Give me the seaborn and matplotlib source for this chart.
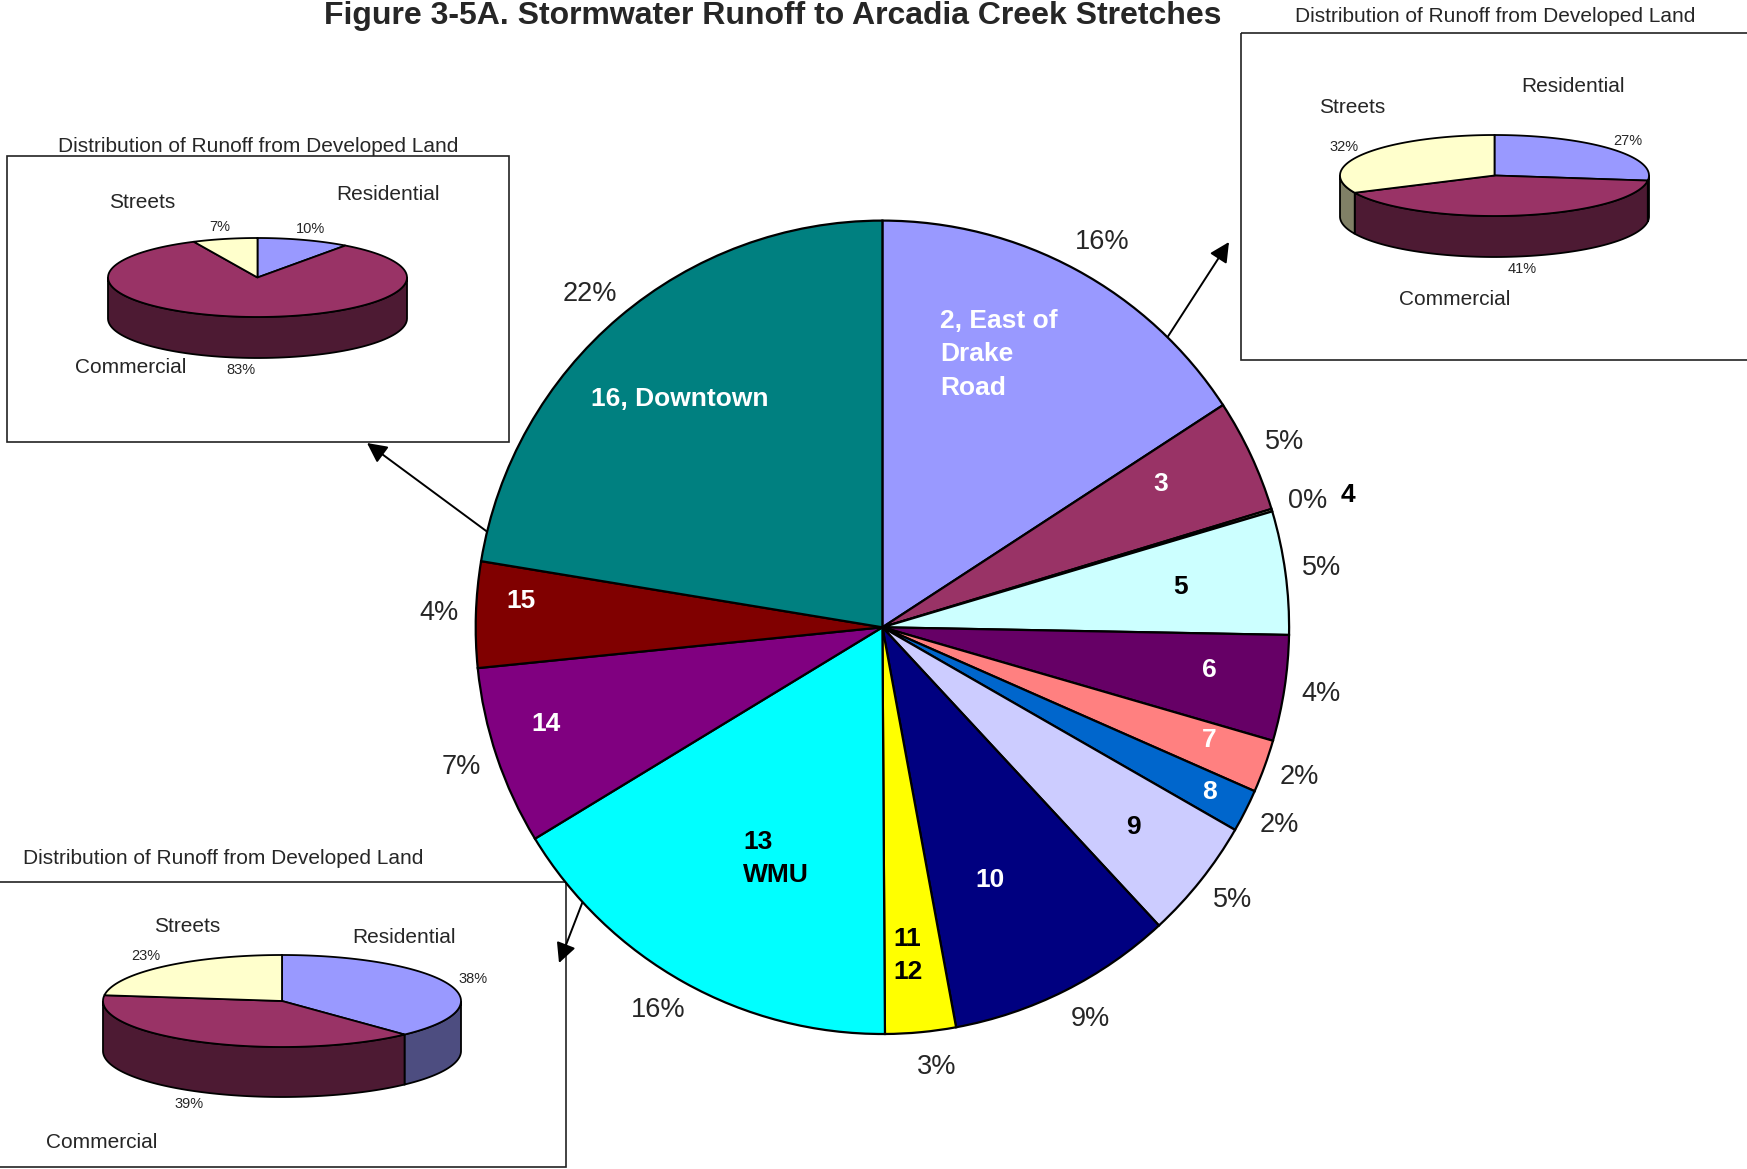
import numpy as np
import seaborn as sns
import matplotlib.pyplot as plt
import matplotlib.colors as mcolors
from matplotlib.patches import Polygon, Rectangle

# ---- main pie: share of stormwater runoff by creek stretch (%)
stretches = ["2, East of\nDrake\nRoad", "3", "4", "5", "6", "7", "8", "9", "10",
             "11\n12", "13\nWMU", "14", "15", "16, Downtown"]
runoff_pct = [15.8, 4.5, 0.1, 4.9, 4.2, 2.1, 1.7, 4.8, 9.0, 2.8, 16.4, 7.1, 4.2, 22.4]
stretch_colors = ["#9999FF", "#993366", "#FFFFCC", "#CCFFFF", "#660066", "#FF8080",
                  "#0066CC", "#CCCCFF", "#000080", "#FFFF00", "#00FFFF", "#800080",
                  "#800000", "#008080"]
label_colors = ["white", "white", "black", "black", "white", "white", "white",
                "black", "white", "black", "black", "white", "white", "white"]

# ---- inset pies: distribution of runoff from developed land (%)
land_uses = ["Residential", "Commercial", "Streets"]
land_colors = ["#9999FF", "#993366", "#FFFFCC"]
downtown_split = [10, 83, 7]
drake_split = [27, 41, 32]
wmu_split = [38, 39, 23]

sns.set_style("white")
plt.rcParams["font.family"] = ["Liberation Sans", "DejaVu Sans"]

W, H = 1747, 1169
fig = plt.figure(figsize=(W / 100, H / 100), dpi=100)

# background axes in pixel units (y down) for boxes, titles, arrows, 3-D insets
ax = fig.add_axes([0, 0, 1, 1])
ax.set_xlim(0, W)
ax.set_ylim(H, 0)
ax.axis("off")

ax.text(773, 24, "Figure 3-5A. Stormwater Runoff to Arcadia Creek Stretches",
        ha="center", va="baseline", fontsize=23, fontweight="bold")


def pie3d(shares, cx, cy, rx, ry, depth, cat_pos):
    fr = np.asarray(shares, float) / np.sum(shares)
    cum = np.concatenate([[0], np.cumsum(fr)])
    starts = 90 - 360 * cum[:-1]
    ends = 90 - 360 * cum[1:]

    def pts(t, dz=0.0):
        r = np.radians(t)
        return np.column_stack([cx + rx * np.cos(r), cy - ry * np.sin(r) + dz])

    # visible outer wall (front half)
    for s, e, c in zip(starts, ends, land_colors):
        for lo, hi in [(-540, -360), (-180, 0), (180, 360)]:
            a, b = max(e, lo), min(s, hi)
            if b > a:
                t = np.linspace(a, b, 80)
                poly = np.vstack([pts(t), pts(t[::-1], depth)])
                dark = tuple(0.5 * np.array(mcolors.to_rgb(c)))
                ax.add_patch(Polygon(poly, closed=True, fc=dark, ec="black",
                                     lw=1.3, zorder=2))
    # top faces
    for s, e, c in zip(starts, ends, land_colors):
        t = np.linspace(e, s, 120)
        poly = np.vstack([[cx, cy], pts(t)])
        ax.add_patch(Polygon(poly, closed=True, fc=c, ec="black", lw=1.3, zorder=3))
    # percentage labels
    for s, e, f in zip(starts, ends, fr):
        m = np.radians((s + e) / 2)
        x = cx + 1.15 * rx * np.cos(m)
        y = cy - 1.3 * ry * np.sin(m) + (depth if np.sin(m) < 0 else 0)
        ax.text(x, y, f"{int(f * 100 + 0.5)}%", ha="center", va="center",
                fontsize=10.5, zorder=4)
    # category labels
    for name, (u, v) in zip(land_uses, cat_pos):
        ax.text(cx + u * rx, cy - v * ry, name, ha="center", va="center",
                fontsize=15, zorder=4)


def box(x0, y0, x1, y1, title, tx, ty):
    ax.add_patch(Rectangle((x0, y0), x1 - x0, y1 - y0, fill=False, ec="#222222",
                           lw=1.2, zorder=1, clip_on=False))
    ax.text(tx, ty, title, ha="center", va="center", fontsize=15)


ttl = "Distribution of Runoff from Developed Land"
box(6.7, 155.7, 509, 441.7, ttl, 258, 146)
pie3d(downtown_split, 257.5, 277.5, 149.5, 39.5, 41,
      [(0.87, 2.11), (-0.85, -2.27), (-0.77, 1.89)])

box(1241, 33, 1760, 360, ttl, 1495, 16)
pie3d(drake_split, 1494.5, 175.5, 154.5, 40.5, 41,
      [(0.51, 2.19), (-0.26, -3.05), (-0.92, 1.67)])

box(-5, 882, 566, 1167, ttl, 223.5, 858)
pie3d(wmu_split, 282, 1001, 179, 46, 50,
      [(0.68, 1.39), (-1.01, -3.07), (-0.53, 1.63)])

# ---- main pie
cx, cy, R = 882.4, 627.3, 406.7
ax_pie = fig.add_axes([(cx - R) / W, (H - cy - R) / H, 2 * R / W, 2 * R / H])
wedges, _ = ax_pie.pie(runoff_pct, colors=sns.color_palette(stretch_colors),
                       startangle=90, counterclock=False, radius=1,
                       wedgeprops=dict(edgecolor="black", linewidth=1.6))
for w in wedges:
    w.set_clip_on(False)
ax_pie.set_xlim(-1, 1)
ax_pie.set_ylim(-1, 1)
ax_pie.axis("off")

label_r = [0.73, 0.77, 1.19, 0.74, 0.81, 0.85, 0.90, 0.79, 0.675, 0.81, 0.625, 0.86, 0.89, 0.75]
label_nudge = [5.4, 2.3, -0.9, 0, 1.2, 1.0, 0, 0, -3.6, -0.9, 4.5, -2.5, -2.4, 1.3]

for w, v, name, col, r, dn in zip(wedges, runoff_pct, stretches, label_colors,
                                  label_r, label_nudge):
    mid = np.radians((w.theta1 + w.theta2) / 2)
    # steep labels sit slightly toward the horizontal, as in the original layout
    lm = mid - np.radians(1.6) * np.sin(mid) ** 2 * np.sign(np.sin(2 * mid))
    ax_pie.text(1.09 * np.cos(lm), 1.09 * np.sin(lm), f"{int(v + 0.5)}%",
                ha="center", va="center", fontsize=19.5)
    a = mid + np.radians(dn)
    ax_pie.text(r * np.cos(a), r * np.sin(a), name, ha="center", va="center",
                ma="left", fontsize=19, fontweight="bold", color=col,
                linespacing=1.5)

# ---- call-out arrows from slices to inset boxes
for ang, tip in [(166.4, (367, 443)), (45.5, (1229, 242)), (-137.5, (559, 963))]:
    a = np.radians(ang)
    start = (cx + R * np.cos(a), cy - R * np.sin(a))
    ax.annotate("", xy=tip, xytext=start,
                arrowprops=dict(arrowstyle="-|>", color="black", lw=1.4,
                                mutation_scale=30, shrinkA=0, shrinkB=0))

fig.savefig("out.png", dpi=100)
